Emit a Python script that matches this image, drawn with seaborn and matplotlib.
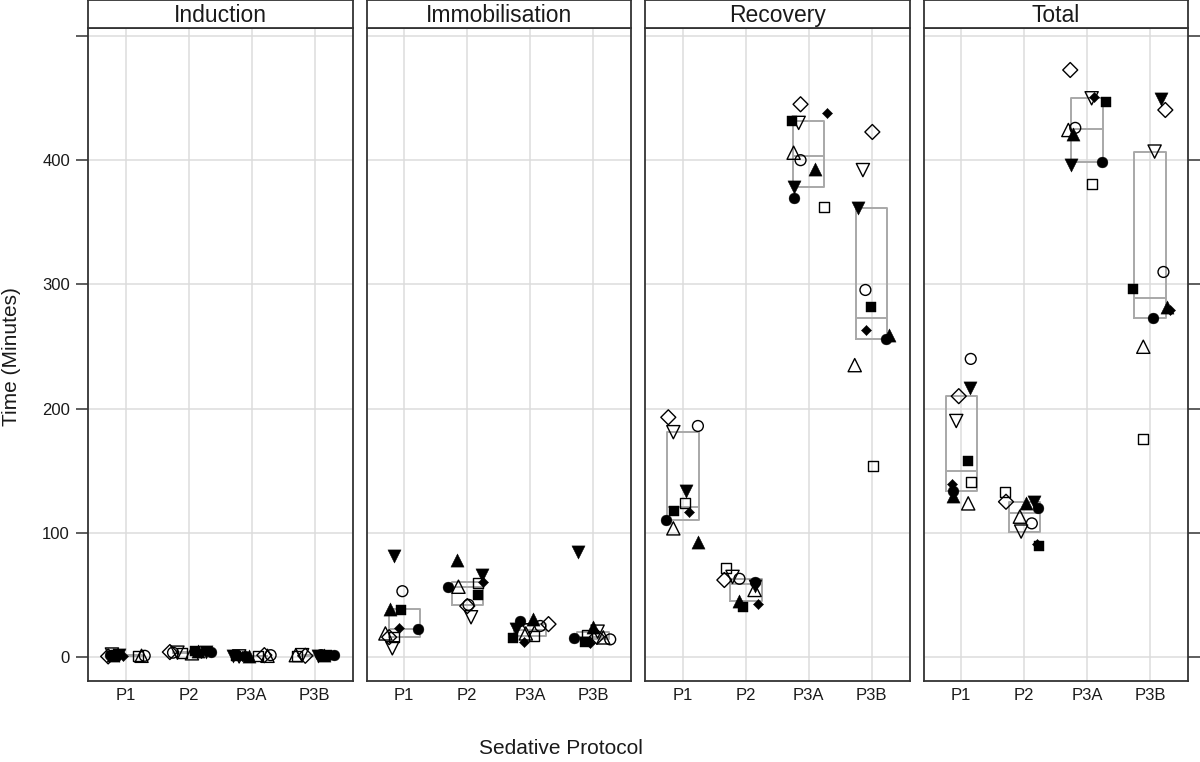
import numpy as np
import pandas as pd
import matplotlib
matplotlib.use("Agg")
import matplotlib.pyplot as plt
import seaborn as sns

# ---------------- data ----------------
phases = ["Induction", "Immobilisation", "Recovery", "Total"]
protocols = ["P1", "P2", "P3A", "P3B"]
# one marker identity per animal
animals = ["A1", "A2", "A3", "A4", "A5", "A6", "A7", "A8", "A9", "A10"]

# values (minutes): rows = protocols P1, P2, P3A, P3B ; columns = animals A1..A10
induction = [
    [1.5, 1.0, 2.0, 0.5, 1.0, 0.5, 1.5, 1.0, 2.0, 2.0],
    [4.0, 3.5, 4.5, 3.0, 3.5, 4.0, 5.0, 3.0, 4.0, 3.5],
    [1.0, 1.5, 0.5, 1.0, 0.5, 1.5, 1.0, 1.0, 0.5, 0.5],
    [2.0, 1.5, 1.5, 1.0, 2.0, 1.0, 2.0, 1.5, 1.0, 1.5],
]
immobilisation = [
    [22.5, 53.0, 37.5, 16.4, 23.0, 16.0, 39.0, 19.0, 81.3, 7.0],
    [56.6, 42.0, 50.0, 59.3, 60.5, 41.0, 78.0, 56.6, 66.0, 32.0],
    [29.0, 25.0, 15.0, 16.9, 12.3, 26.5, 30.3, 19.0, 22.5, 21.5],
    [15.6, 14.2, 12.0, 17.7, 11.0, 16.3, 23.8, 15.8, 84.8, 20.4],
]
recovery = [
    [110.0, 186.0, 117.6, 124.0, 116.5, 193.0, 92.8, 103.6, 133.6, 181.0],
    [60.0, 63.0, 40.0, 72.0, 43.0, 62.0, 45.5, 54.0, 57.0, 64.5],
    [369.8, 400.0, 431.6, 362.6, 437.7, 445.0, 393.0, 406.0, 378.0, 430.0],
    [256.0, 295.5, 282.0, 153.8, 263.3, 422.7, 259.0, 235.0, 361.8, 392.0],
]
total = [
    [133.7, 240.0, 157.8, 141.0, 139.0, 210.0, 130.0, 123.7, 216.8, 190.0],
    [119.7, 107.6, 89.0, 133.0, 91.0, 125.0, 123.7, 113.0, 125.0, 101.0],
    [398.8, 426.0, 447.0, 380.8, 451.0, 472.6, 421.0, 424.3, 396.0, 449.8],
    [272.7, 310.0, 296.0, 175.3, 279.0, 440.4, 282.0, 249.8, 449.0, 406.9],
]

# horizontal jitter of each point (category units)
jitter_induction = [
    [-0.25, 0.30, -0.15, 0.20, -0.05, -0.28, -0.20, 0.25, -0.10, -0.22],
    [0.35, -0.25, 0.10, -0.10, 0.20, -0.30, 0.15, 0.05, 0.28, -0.18],
    [-0.10, 0.30, -0.25, 0.10, -0.15, 0.20, -0.05, 0.25, -0.30, -0.20],
    [0.30, 0.10, 0.20, -0.28, 0.25, -0.15, 0.15, -0.30, 0.05, -0.20],
]
jitter_immobilisation = [
    [0.21, -0.03, -0.06, -0.16, -0.08, -0.24, -0.22, -0.30, -0.16, -0.19],
    [-0.30, 0.02, 0.17, 0.17, 0.25, 0.00, -0.17, -0.14, 0.23, 0.06],
    [-0.17, 0.16, -0.28, 0.06, -0.10, 0.29, 0.05, -0.07, -0.22, -0.02],
    [-0.31, 0.27, -0.13, -0.10, -0.05, 0.06, 0.00, 0.16, -0.24, 0.07],
]
jitter_recovery = [
    [-0.27, 0.24, -0.14, 0.03, 0.10, -0.23, 0.24, -0.15, 0.05, -0.15],
    [0.14, -0.10, -0.05, -0.31, 0.19, -0.34, -0.10, 0.14, 0.14, -0.21],
    [-0.23, -0.13, -0.27, 0.25, 0.29, -0.13, 0.10, -0.24, -0.23, -0.16],
    [0.22, -0.10, -0.01, 0.02, -0.09, 0.01, 0.27, -0.27, -0.22, -0.14],
]
jitter_total = [
    [-0.13, 0.15, 0.11, 0.15, -0.14, -0.04, -0.13, 0.11, 0.14, -0.08],
    [0.22, 0.12, 0.24, -0.31, 0.20, -0.29, 0.03, -0.07, 0.16, -0.05],
    [0.23, -0.19, 0.29, 0.07, 0.10, -0.27, -0.22, -0.30, -0.26, 0.07],
    [0.04, 0.21, -0.27, -0.12, 0.32, 0.24, 0.27, -0.11, 0.17, 0.07],
]

values = {"Induction": induction, "Immobilisation": immobilisation,
          "Recovery": recovery, "Total": total}
jitters = {"Induction": jitter_induction, "Immobilisation": jitter_immobilisation,
           "Recovery": jitter_recovery, "Total": jitter_total}

rows = []
for ph in phases:
    for i, pr in enumerate(protocols):
        for j, an in enumerate(animals):
            rows.append(dict(phase=ph, protocol=pr, animal=an,
                             value=values[ph][i][j],
                             xpos=i + jitters[ph][i][j]))
df = pd.DataFrame(rows)

# ---------------- styles ----------------
# (marker, filled, markersize in pt)
marker_style = {
    "A1": ("o", True, 7.8), "A2": ("o", False, 7.8),
    "A3": ("s", True, 7.2), "A4": ("s", False, 7.2),
    "A5": ("D", True, 5.2), "A6": ("D", False, 7.6),
    "A7": ("^", True, 9.5), "A8": ("^", False, 9.5),
    "A9": ("v", True, 9.5), "A10": ("v", False, 9.5),
}

sns.set_theme(style="whitegrid")
plt.rcParams["font.family"] = ["Liberation Sans", "DejaVu Sans"]

W, H = 1200, 762
fig, axes = plt.subplots(1, 4, figsize=(W / 100, H / 100), dpi=100, sharey=True)
panel_top, panel_bottom = 28, 681
fig.subplots_adjust(left=88 / W, right=1188 / W, bottom=1 - panel_bottom / H,
                    top=1 - panel_top / H, wspace=14 / 264.5)

BORDER = "#333333"
GRID = "#dcdcdc"
BOX = "#a8a8a8"
TEXT = "#1a1a1a"


def fivenum(v):
    x = np.sort(np.asarray(v, dtype=float))
    n = len(x)
    n4 = np.floor((n + 3) / 2) / 2
    d = np.array([1, n4, (n + 1) / 2, n + 1 - n4, n]) - 1
    return 0.5 * (x[np.floor(d).astype(int)] + x[np.ceil(d).astype(int)])


for k, (ax, ph) in enumerate(zip(axes, phases)):
    sub = df[df.phase == ph]
    stats = []
    for pr in protocols:
        lo, q1, med, q3, hi = fivenum(sub[sub.protocol == pr].value)
        stats.append(dict(med=med, q1=q1, q3=q3, whislo=q1, whishi=q3, fliers=[]))
    ax.bxp(stats, positions=range(len(protocols)), widths=0.5,
           showcaps=False, showfliers=False, manage_ticks=False,
           boxprops=dict(color=BOX, linewidth=1.4),
           medianprops=dict(color=BOX, linewidth=1.4),
           whiskerprops=dict(linewidth=0))

    for an in animals:
        mk, filled, ms = marker_style[an]
        d = sub[sub.animal == an]
        if filled:
            sns.scatterplot(data=d, x="xpos", y="value", marker=mk, s=ms ** 2,
                            color="black", edgecolor="black", linewidth=0.3,
                            ax=ax, legend=False, zorder=3)
        else:
            sns.scatterplot(data=d, x="xpos", y="value", marker=mk, s=ms ** 2,
                            color="black", facecolor="none", edgecolor="black",
                            linewidth=1.0, ax=ax, legend=False, zorder=3)

    ax.set_xlim(-0.6, len(protocols) - 0.4)
    ax.set_ylim(-19.3, 506.4)
    ax.set_xticks(range(len(protocols)))
    ax.set_xticklabels(protocols, fontsize=12, color=TEXT)
    ax.set_yticks([0, 100, 200, 300, 400, 500])
    ax.set_xlabel("")
    ax.set_ylabel("")
    ax.grid(True, color=GRID, linewidth=1.1)
    ax.set_axisbelow(True)
    for sp in ax.spines.values():
        sp.set_color(BORDER)
        sp.set_linewidth(1.3)
    ax.tick_params(axis="x", length=0, pad=5)
    if k == 0:
        ax.set_yticklabels(["0", "100", "200", "300", "400", ""], fontsize=12,
                           color=TEXT)
        ax.tick_params(axis="y", left=True, length=9, width=1.1, color=BORDER, pad=4)
    elif k == len(phases) - 1:
        ax.tick_params(axis="y", left=False, right=True, labelleft=False,
                       length=9, width=1.1, color=BORDER)
    else:
        ax.tick_params(axis="y", left=False, labelleft=False)

    # strip header
    pos = ax.get_position()
    sax = fig.add_axes([pos.x0, pos.y1, pos.width, panel_top / H])
    sax.set_xticks([])
    sax.set_yticks([])
    sax.set_facecolor("white")
    for sp in sax.spines.values():
        sp.set_color(BORDER)
        sp.set_linewidth(1.3)
    sax.text(0.5, 0.45, ph, ha="center", va="center", fontsize=16.5,
             color=TEXT, transform=sax.transAxes)

fig.text(561 / W, 1 - 748 / H, "Sedative Protocol", ha="center",
         va="center", fontsize=15, color=TEXT)
fig.text(12 / W, 1 - 357 / H, "Time (Minutes)", ha="center", va="center",
         rotation=90, fontsize=15, color=TEXT)

fig.savefig("out.png", dpi=100, facecolor="white")
